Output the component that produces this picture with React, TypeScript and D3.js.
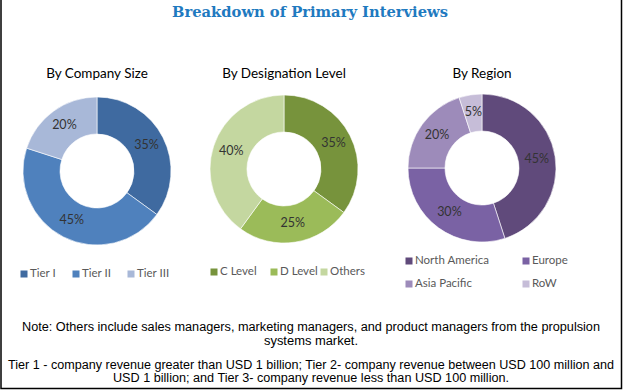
import * as d3 from "d3";

// values
const companyLabels = ["Tier I", "Tier II", "Tier III"];
const companyValues = [35, 45, 20];
const companyColors = ["#3F6AA0", "#4F81BD", "#A8B8D8"];

const designationLabels = ["C Level", "D Level", "Others"];
const designationValues = [35, 25, 40];
const designationColors = ["#77933C", "#9BBB59", "#C4D7A0"];

const regionLabels = ["North America", "Europe", "Asia Pacific", "RoW"];
const regionValues = [45, 30, 20, 5];
const regionColors = ["#604A7B", "#7A62A4", "#9D8BBA", "#C6BDD8"];

const footLines = [
  "Note: Others include sales managers, marketing managers, and product managers from the propulsion",
  "systems market.",
  "Tier 1 - company revenue greater than USD 1 billion; Tier 2- company revenue between USD 100 million and",
  "USD 1 billion; and Tier 3- company revenue less than USD 100 million.",
];
// widths and baselines of the footnote lines in the reference (narrow font)
const footWidths = [578, 94, 606, 396];
const footBaselines = [331, 345, 369, 382];

const W = 623;
const H = 391;
const sans = "Lato, 'Open Sans', sans-serif";

interface DonutProps {
  title: string;
  cx: number;
  cy: number;
  labels: string[];
  values: number[];
  colors: string[];
  legend: { x: number; y: number }[];
}

function Donut({ title, cx, cy, labels, values, colors, legend }: DonutProps) {
  const outer = 74;
  const inner = 37;
  const pie = d3.pie<number>().sort(null).value((d) => d);
  const arcs = pie(values);
  const arc = d3.arc<d3.PieArcDatum<number>>().innerRadius(inner).outerRadius(outer);
  const labelArc = d3
    .arc<d3.PieArcDatum<number>>()
    .innerRadius((inner + outer) / 2)
    .outerRadius((inner + outer) / 2);

  return (
    <g>
      <text x={cx} y={78} textAnchor="middle" fontFamily={sans} fontSize={13.5} fill="#000">
        {title}
      </text>
      <g transform={`translate(${cx},${cy})`}>
        {arcs.map((a, i) => (
          <path key={i} d={arc(a) || ""} fill={colors[i]} stroke="#fff" strokeWidth={0.6} />
        ))}
        {arcs.map((a, i) => {
          const [lx, ly] = labelArc.centroid(a);
          return (
            <text
              key={i}
              x={lx}
              y={ly}
              textAnchor="middle"
              dominantBaseline="middle"
              fontFamily={sans}
              fontSize={12.5}
              fill="#333"
            >
              {values[i]}%
            </text>
          );
        })}
      </g>
      {labels.map((l, i) => (
        <g key={l} transform={`translate(${legend[i].x},${legend[i].y})`}>
          <rect x={-3.5} y={-3.5} width={7} height={7} fill={colors[i]} />
          <text x={6} y={0} dominantBaseline="middle" fontFamily={sans} fontSize={11.5} fill="#595959">
            {l}
          </text>
        </g>
      ))}
    </g>
  );
}

export default function App() {
  const foot = "'Liberation Sans', Arial, sans-serif";
  return (
    <svg
      width={W}
      height={H}
      style={{ position: "absolute", left: 0, top: 0, background: "#fff" }}
    >
      <rect x={0} y={0} width={W} height={H} fill="#fff" />
      <path d={`M1,0 V388.5 H621.5 V0`} fill="none" stroke="#000" strokeWidth={1.5} />
      <text
        x={310}
        y={17}
        textAnchor="middle"
        fontFamily="'DejaVu Serif', serif"
        fontWeight="bold"
        fontSize={14.5}
        fill="#1F7AC0"
        textLength={276}
        lengthAdjust="spacingAndGlyphs"
      >
        Breakdown of Primary Interviews
      </text>

      <Donut
        title="By Company Size"
        cx={97}
        cy={171}
        labels={companyLabels}
        values={companyValues}
        colors={companyColors}
        legend={[
          { x: 24, y: 274 },
          { x: 76, y: 274 },
          { x: 131, y: 274 },
        ]}
      />
      <Donut
        title="By Designation Level"
        cx={284}
        cy={169}
        labels={designationLabels}
        values={designationValues}
        colors={designationColors}
        legend={[
          { x: 214, y: 272 },
          { x: 274, y: 272 },
          { x: 324, y: 272 },
        ]}
      />
      <Donut
        title="By Region"
        cx={482}
        cy={168}
        labels={regionLabels}
        values={regionValues}
        colors={regionColors}
        legend={[
          { x: 409, y: 261 },
          { x: 526, y: 261 },
          { x: 409, y: 284 },
          { x: 526, y: 284 },
        ]}
      />

      {footLines.map((t, i) => (
        <text
          key={t}
          x={311}
          y={footBaselines[i]}
          textAnchor="middle"
          fontFamily={foot}
          fontSize={12.5}
          fill="#000"
          textLength={footWidths[i]}
          lengthAdjust="spacingAndGlyphs"
        >
          {t}
        </text>
      ))}
    </svg>
  );
}
